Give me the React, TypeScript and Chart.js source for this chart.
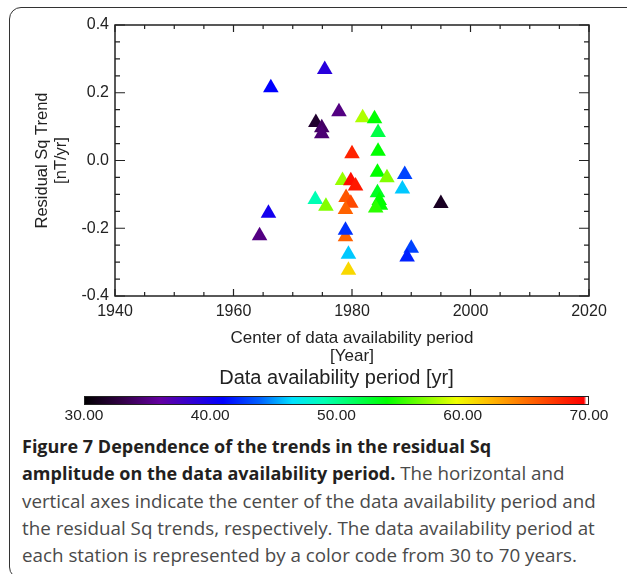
import React, { useEffect, useRef } from 'react';
import { Chart, registerables } from 'chart.js';

Chart.register(...registerables);

// ---- data ----
const centerYears = [
  1966.3, 1975.4, 1977.8, 1973.9, 1974.9, 1974.9, 1981.8, 1983.8, 1984.4, 1980.0,
  1984.4, 1984.3, 1985.9, 1988.9, 1988.5, 1978.4, 1979.8, 1980.6, 1979.0, 1979.8,
  1978.9, 1973.8, 1975.6, 1965.9, 1964.4, 1978.9, 1978.9, 1979.4, 1979.4, 1984.3,
  1984.6, 1984.8, 1984.0, 1995.0, 1990.0, 1989.3,
];
const residualTrends = [
  0.215, 0.269, 0.144, 0.112, 0.097, 0.079, 0.126, 0.123, 0.083, 0.02,
  0.027, -0.035, -0.051, -0.041, -0.084, -0.059, -0.06, -0.075, -0.109, -0.126,
  -0.145, -0.115, -0.135, -0.156, -0.222, -0.225, -0.206, -0.277, -0.324, -0.095,
  -0.118, -0.132, -0.14, -0.127, -0.259, -0.285,
];
const availabilityPeriods = [
  41, 39, 35, 32, 34, 34.5, 58, 54, 52, 68,
  54, 54, 57, 43, 46, 57.5, 69, 68.5, 66, 66.5,
  65.5, 49, 57, 40, 35, 65.5, 42.5, 46, 61, 53,
  54, 54, 55, 31.5, 43, 42,
];

const xTickValues = [1940, 1960, 1980, 2000, 2020];
const yTickValues = [-0.4, -0.2, 0, 0.2, 0.4];
const yTickLabels = ['-0.4', '-0.2', '0.0', '0.2', '0.4'];
const colorbarTicks = [30, 40, 50, 60, 70];
const colorbarTickLabels = ['30.00', '40.00', '50.00', '60.00', '70.00'];

// rainbow colour table (value -> rgb)
const colorStops: [number, number[]][] = [
  [30, [0, 0, 0]],
  [33, [50, 0, 70]],
  [36, [100, 0, 160]],
  [39, [40, 0, 220]],
  [41, [0, 0, 255]],
  [44, [0, 100, 255]],
  [46.5, [0, 225, 255]],
  [49, [0, 255, 180]],
  [52, [0, 255, 70]],
  [54, [0, 255, 0]],
  [57, [130, 255, 0]],
  [59.5, [240, 255, 0]],
  [62, [255, 190, 0]],
  [65, [255, 110, 0]],
  [68, [255, 35, 0]],
  [69.6, [255, 0, 0]],
  [69.8, [255, 255, 255]],
  [70, [255, 255, 255]],
];

function periodColor(p: number): string {
  if (p <= colorStops[0][0]) return `rgb(${colorStops[0][1].join(',')})`;
  for (let i = 1; i < colorStops.length; i++) {
    const [v1, c1] = colorStops[i];
    const [v0, c0] = colorStops[i - 1];
    if (p <= v1) {
      const t = (p - v0) / (v1 - v0);
      const c = c0.map((a, k) => Math.round(a + (c1[k] - a) * t));
      return `rgb(${c.join(',')})`;
    }
  }
  return `rgb(${colorStops[colorStops.length - 1][1].join(',')})`;
}

const FONT = '"Liberation Sans", Arial, Helvetica, sans-serif';
const INK = '#222';

const decorPlugin = {
  id: 'decor',
  afterDraw(chart: any) {
    const ctx = chart.ctx as CanvasRenderingContext2D;
    const { left, right, top, bottom } = chart.chartArea;
    const xs = chart.scales.x;
    const ys = chart.scales.y;
    ctx.save();
    // box
    ctx.strokeStyle = INK;
    ctx.lineWidth = 1.5;
    ctx.strokeRect(left, top, right - left, bottom - top);
    // x ticks (every 5 years, majors every 20)
    ctx.lineWidth = 1.2;
    for (let yr = 1940; yr <= 2020; yr += 5) {
      const px = xs.getPixelForValue(yr);
      const len = yr % 20 === 0 ? 7 : 4;
      ctx.beginPath();
      ctx.moveTo(px, bottom);
      ctx.lineTo(px, bottom - len);
      ctx.moveTo(px, top);
      ctx.lineTo(px, top + len);
      ctx.stroke();
    }
    for (let k = 0; k <= 16; k++) {
      const v = -0.4 + k * 0.05;
      const py = ys.getPixelForValue(v);
      const len = k % 4 === 0 ? 10 : 5;
      ctx.beginPath();
      ctx.moveTo(left, py);
      ctx.lineTo(left + len, py);
      ctx.moveTo(right, py);
      ctx.lineTo(right - len, py);
      ctx.stroke();
    }
    // axis titles
    ctx.fillStyle = INK;
    ctx.textAlign = 'center';
    ctx.textBaseline = 'middle';
    ctx.font = `17px ${FONT}`;
    const cx = (left + right) / 2;
    ctx.fillText('Center of data availability period', cx, 338);
    ctx.fillText('[Year]', cx, 356);
    ctx.save();
    ctx.translate(42, (top + bottom) / 2);
    ctx.rotate(-Math.PI / 2);
    ctx.font = `16.5px ${FONT}`;
    ctx.fillText('Residual Sq Trend', 0, 0);
    ctx.fillText('[nT/yr]', 0, 19);
    ctx.restore();

    // colour bar
    const cbL = 84;
    const cbR = right;
    const cbT = 396;
    const cbB = 405;
    const lo = colorbarTicks[0];
    const hi = colorbarTicks[colorbarTicks.length - 1];
    const grad = ctx.createLinearGradient(cbL, 0, cbR, 0);
    colorStops.forEach(([v]) => {
      grad.addColorStop((v - lo) / (hi - lo), periodColor(v));
    });
    ctx.fillStyle = grad;
    ctx.fillRect(cbL, cbT, cbR - cbL, cbB - cbT);
    ctx.strokeStyle = INK;
    ctx.lineWidth = 1;
    ctx.strokeRect(cbL + 0.5, cbT + 0.5, cbR - cbL - 1, cbB - cbT - 1);
    ctx.fillStyle = INK;
    ctx.font = `20px ${FONT}`;
    ctx.fillText('Data availability period [yr]', (cbL + cbR) / 2, 378);
    ctx.font = `15.5px ${FONT}`;
    colorbarTicks.forEach((v, i) => {
      const px = cbL + ((v - lo) / (hi - lo)) * (cbR - cbL);
      ctx.fillText(colorbarTickLabels[i], px, 416);
    });
    ctx.restore();
  },
};

export default function App() {
  const ref = useRef<HTMLCanvasElement | null>(null);
  useEffect(() => {
    if (!ref.current) return;
    const points = centerYears.map((x, i) => ({ x, y: residualTrends[i] }));
    const colors = availabilityPeriods.map(periodColor);
    const chart = new Chart(ref.current, {
      type: 'scatter',
      data: {
        datasets: [
          {
            data: points,
            pointStyle: 'triangle',
            pointRadius: 9,
            pointHoverRadius: 9,
            pointBackgroundColor: colors,
            pointBorderColor: colors,
            pointBorderWidth: 0,
          },
        ],
      },
      options: {
        animation: false,
        responsive: false,
        maintainAspectRatio: false,
        events: [],
        layout: { padding: { left: 0, right: 38, top: 25, bottom: 0 } },
        plugins: { legend: { display: false }, tooltip: { enabled: false } },
        scales: {
          x: {
            type: 'linear',
            min: 1940,
            max: 2020,
            afterBuildTicks: (s: any) => {
              s.ticks = xTickValues.map((value) => ({ value }));
            },
            afterFit: (s: any) => {
              s.height = 134;
            },
            grid: { display: false, drawTicks: false },
            border: { display: false },
            ticks: {
              padding: 6,
              color: INK,
              font: { size: 16, family: FONT },
              maxRotation: 0,
              callback: (v: any) => String(v),
            },
          },
          y: {
            type: 'linear',
            min: -0.4,
            max: 0.4,
            afterBuildTicks: (s: any) => {
              s.ticks = yTickValues.map((value) => ({ value }));
            },
            afterFit: (s: any) => {
              s.width = 115;
            },
            grid: { display: false, drawTicks: false },
            border: { display: false },
            ticks: {
              padding: 6,
              color: INK,
              font: { size: 16, family: FONT },
              callback: (v: any) => {
                const idx = yTickValues.findIndex((t) => Math.abs(t - v) < 1e-9);
                return idx >= 0 ? yTickLabels[idx] : '';
              },
            },
          },
        },
      },
      plugins: [decorPlugin],
    });
    return () => chart.destroy();
  }, []);

  return (
    <div
      style={{
        position: 'fixed',
        left: 0,
        top: 0,
        width: 627,
        height: 574,
        overflow: 'hidden',
        background: '#fff',
      }}
    >
      <div
        style={{
          position: 'absolute',
          left: 9,
          top: 7,
          width: 700,
          height: 572,
          border: '1.5px solid #333',
          borderRadius: 12,
          boxSizing: 'border-box',
        }}
      />
      <canvas
        ref={ref}
        width={627}
        height={430}
        style={{ position: 'absolute', left: 0, top: 0, width: 627, height: 430 }}
      />
      <div
        style={{
          position: 'absolute',
          left: 22,
          top: 433,
          fontFamily: '"Open Sans", "Noto Sans", sans-serif',
          fontSize: 18.8,
          lineHeight: '27.3px',
          color: '#4a4a4a',
          whiteSpace: 'nowrap',
        }}
      >
        <b style={{ color: '#231f20', fontSize: 18 }}>Figure 7 Dependence of the trends in the residual Sq</b>
        <br />
        <b style={{ color: '#231f20', fontSize: 18 }}>amplitude on the data availability period.</b> The horizontal and
        <br />
        vertical axes indicate the center of the data availability period and
        <br />
        the residual Sq trends, respectively. The data availability period at
        <br />
        each station is represented by a color code from 30 to 70 years.
      </div>
    </div>
  );
}
